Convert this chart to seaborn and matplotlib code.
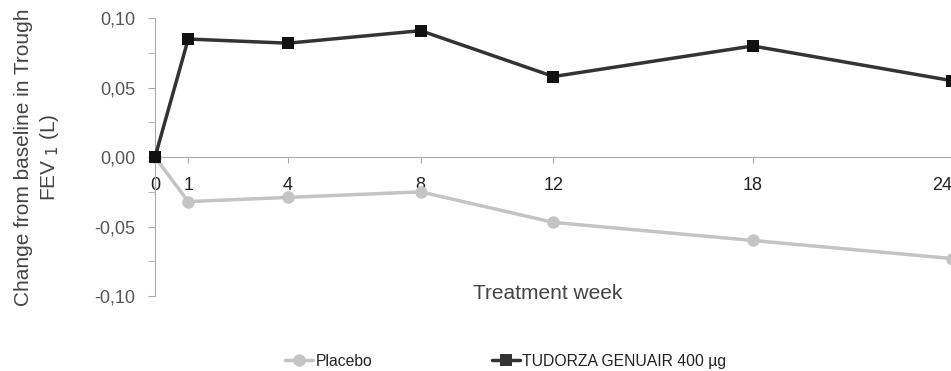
import seaborn as sns
import matplotlib.pyplot as plt
import pandas as pd

# Data
weeks = [0, 1, 4, 8, 12, 18, 24]
placebo = [0.0, -0.032, -0.029, -0.025, -0.047, -0.060, -0.073]
tudorza = [0.0, 0.085, 0.082, 0.091, 0.058, 0.080, 0.055]
series_names = ['Placebo', 'TUDORZA GENUAIR 400 µg']

df = pd.concat([
    pd.DataFrame({'week': weeks, 'value': placebo, 'group': series_names[0]}),
    pd.DataFrame({'week': weeks, 'value': tudorza, 'group': series_names[1]}),
])

sns.set_style('white')
plt.rcParams['font.family'] = ['Liberation Sans', 'DejaVu Sans']

fig = plt.figure(figsize=(9.51, 3.71), dpi=100)
ax = fig.add_axes([0.163, 0.202, 0.838, 0.749])

sns.lineplot(df, x='week', y='value', hue='group', style='group',
             palette=['#c4c4c4', '#333333'], markers=['o', 's'], dashes=False,
             markersize=9, linewidth=2.5, markeredgewidth=0, ax=ax)
# darker square markers for Tudorza, markers at the axis edge not clipped
ax.lines[1].set_markerfacecolor('#111111')
for ln in ax.lines[:2]:
    ln.set_clip_on(False)
    ln.set_zorder(3)

ax.spines[['top', 'right']].set_visible(False)
ax.spines['left'].set_color('#aaaaaa')
ax.spines['bottom'].set_position(('data', 0))
ax.spines['bottom'].set_color('#aaaaaa')
ax.spines['bottom'].set_linewidth(0.8)
ax.tick_params(axis='y', which='both', left=True, length=5, color='#aaaaaa', pad=9,
               labelsize=13, labelcolor='#555555')
ax.tick_params(axis='x', bottom=True, length=4, color='#aaaaaa', pad=10,
               labelsize=13, labelcolor='#222222')

ax.set_xlim(0, 23.85)
ax.set_ylim(-0.1, 0.1)
ax.set_yticks([-0.1, -0.05, 0.0, 0.05, 0.1])
ax.set_yticks([-0.075, -0.025, 0.025, 0.075], minor=True)
ax.set_yticklabels(['-0,10', '-0,05', '0,00', '0,05', '0,10'])
ax.set_xticks(weeks)
xlabels = ax.set_xticklabels([str(w) for w in weeks])
xlabels[-1].set_horizontalalignment('right')

ax.set_xlabel('Treatment week', fontsize=15, color='#444444')
ax.xaxis.set_label_coords(0.493, 0.045)
ax.set_ylabel('Change from baseline in Trough\nFEV$_{\\ 1}$ (L)', fontsize=15, color='#444444',
              linespacing=1.3)
ax.yaxis.set_label_coords(-0.118, 0.5)

handles, labels = ax.get_legend_handles_labels()
ax.legend(handles, labels, loc='center', bbox_to_anchor=(0.44, -0.235), ncol=2,
          frameon=False, fontsize=11.3, handlelength=1.8, columnspacing=7.6,
          handletextpad=0.15, labelcolor='#222222')

fig.savefig('out.png', dpi=100)
